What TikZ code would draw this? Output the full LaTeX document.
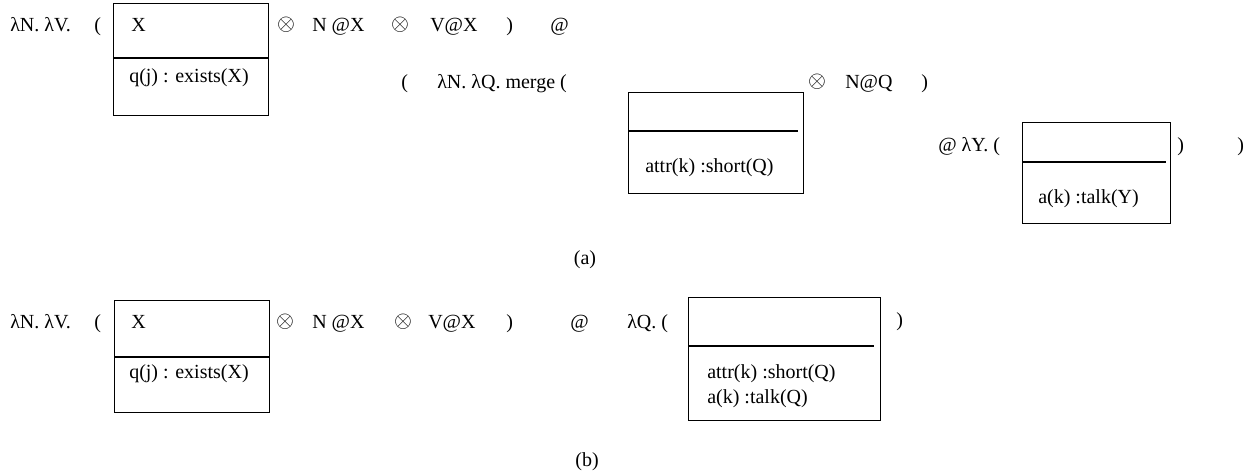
\documentclass[tikz,border=0pt]{standalone}
\usepackage{fontspec}
\setmainfont{Liberation Serif}
\usetikzlibrary{calc}
\tikzset{
  t/.style={anchor=base west, inner sep=0pt, font=\fontsize{15}{18}\selectfont},
  tc/.style={anchor=base, inner sep=0pt, font=\fontsize{15}{18}\selectfont},
  otm/.style={anchor=center, inner sep=0pt, font=\fontsize{17}{20}\selectfont},
  drs/.style={draw, line width=0.9pt, inner sep=0pt, anchor=north west},
  divider/.style={line width=0.9pt},
}
\begin{document}
\begin{tikzpicture}[x=0.75pt,y=-0.75pt]
\useasboundingbox (0,0) rectangle (1258,475);

% ---------- (a) ----------
\node[t] (a1) at (10,31) {λN. λV.};
\node[t] (a1p) at (94,31) {(};
\node[drs, minimum width=116.25pt, minimum height=84pt] (A1) at (113,3) {};
\draw[divider] ($(A1.north west)+(0,55)$) coordinate (A1l) -- ($(A1.north east)+(0,55)$) coordinate (A1r);
\node[t] (A1x) at (131,31) {X};
\node[t] (A1c) at (129,82) {q(j) : exists(X)};
\node[otm] (a2) at (286,25) {$\otimes$};
\node[t] (a3) at (312,31) {N @X};
\node[otm] (a4) at (400,25) {$\otimes$};
\node[t] (a5) at (430,31) {V@X};
\node[t] (a6) at (506,31) {)};
\node[t] (a7) at (550,31) {@};

\node[t] (a8) at (401,88) {(};
\node[t] (a9) at (437,88) {λN. λQ. merge (};
\node[drs, minimum width=131.25pt, minimum height=75.75pt] (A2) at (628,92) {};
\draw[divider] ($(A2.north west)+(0,39)$) coordinate (A2l) -- ($(A2.north east)+(-6,39)$) coordinate (A2r);
\node[t] (A2c) at (645,172) {attr(k) :short(Q)};
\node[otm] (a10) at (817,82) {$\otimes$};
\node[t] (a11) at (845,88) {N@Q};
\node[t] (a12) at (921,88) {)};

\node[t] (a13) at (938,151) {@ λY. (};
\node[drs, minimum width=111pt, minimum height=75.75pt] (A3) at (1022,122) {};
\draw[divider] ($(A3.north west)+(0,40)$) coordinate (A3l) -- ($(A3.north east)+(-5,40)$) coordinate (A3r);
\node[t] (A3c) at (1038,203) {a(k) :talk(Y)};
\node[t] (a14) at (1177,151) {)};
\node[t] (a15) at (1237,151) {)};

\node[tc] (capa) at (585,264) {(a)};

% ---------- (b) ----------
\node[t] (b1) at (10,328) {λN. λV.};
\node[t] (b1p) at (94,328) {(};
\node[drs, minimum width=116.25pt, minimum height=84pt] (B1) at (114,300) {};
\draw[divider] ($(B1.north west)+(0,57)$) coordinate (B1l) -- ($(B1.north east)+(0,57)$) coordinate (B1r);
\node[t] (B1x) at (131,328) {X};
\node[t] (B1c) at (129,378) {q(j) : exists(X)};
\node[otm] (b2) at (285,322) {$\otimes$};
\node[t] (b3) at (312,328) {N @X};
\node[otm] (b4) at (403,322) {$\otimes$};
\node[t] (b5) at (428,328) {V@X};
\node[t] (b6) at (506,328) {)};
\node[t] (b7) at (570,328) {@};
\node[t] (b8) at (627,328) {λQ. (};
\node[drs, minimum width=144pt, minimum height=92.25pt] (B2) at (688,297) {};
\draw[divider] ($(B2.north west)+(0,49)$) coordinate (B2l) -- ($(B2.north east)+(-7,49)$) coordinate (B2r);
\node[t] (B2c) at (707,378) {attr(k) :short(Q)};
\node[t] (B2d) at (707,403) {a(k) :talk(Q)};
\node[t] (b9) at (896,326) {)};

\node[tc] (capb) at (587,466) {(b)};
\end{tikzpicture}
\end{document}
